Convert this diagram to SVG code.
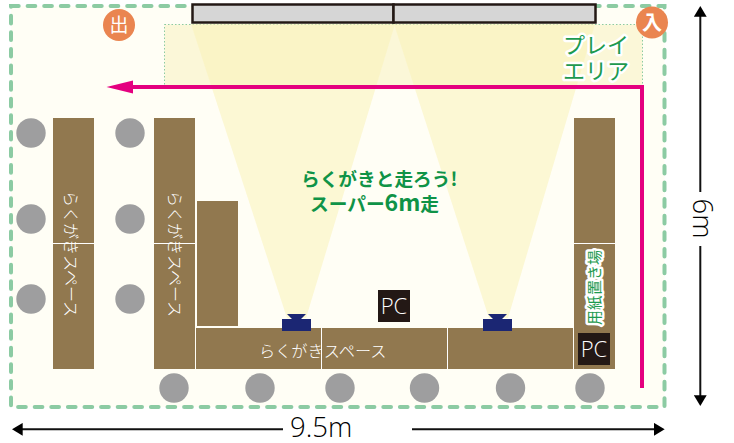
<svg xmlns="http://www.w3.org/2000/svg" width="734" height="443" viewBox="0 0 734 443">
<style>
text{font-family:"Noto Sans CJK JP","Noto Sans",sans-serif}
.t{fill:#91784f}
.sep{stroke:#fff;stroke-width:1;fill:none}
.c{fill:#9e9e9f}
.w{fill:#fff;font-size:16px;font-weight:300}
.g{fill:#0f9347;font-weight:700;font-size:18.700px}
.pa{fill:#1d9a4f;font-size:22px;stroke:#fff;stroke-width:5px;paint-order:stroke;stroke-linejoin:round}
.o{fill:#ea8550}
.pc{fill:#231815}
.pct{fill:#fff;font-family:"Open Sans",sans-serif;font-size:22px;font-weight:300;text-anchor:middle}
.n{fill:#1b2673}
.d{fill:#000;font-family:"Open Sans",sans-serif;font-size:27.500px;font-weight:300}
.dl{stroke:#111;stroke-width:2;fill:none}
</style>
<defs>
<marker id="ah" markerUnits="userSpaceOnUse" markerWidth="11" markerHeight="13" refX="5" refY="6.400" orient="auto"><path d="M0 0L10.700 6.400L0 12.800z" fill="#000"/></marker>
<marker id="pk" markerUnits="userSpaceOnUse" markerWidth="28" markerHeight="14" refX="13" refY="6.500" orient="auto"><path d="M0 0L26.500 6.500L0 13z" fill="#e4007f"/></marker>
</defs>
<g id="room"><rect x="11" y="6" width="653.500" height="401" fill="#fffef5" stroke="#8ccba3" stroke-width="4" stroke-dasharray="7.700 8.900" stroke-linecap="round"/></g>
<g id="play-area"><rect x="164.500" y="24.500" width="478" height="63" fill="#fbf7d8" stroke="#8ccba3" stroke-width="1" stroke-dasharray="1.500 2"/></g>
<g id="beams" fill="#faf3b8" fill-opacity=".55"><path d="M191 24L287 318H306L395 24z"/><path d="M394 24L489 318H508L595 24z"/></g>
<g id="screen" fill="#d6d6d6" stroke="#231815" stroke-width="2.500"><rect x="192.500" y="4.500" width="201" height="18"/><rect x="393.500" y="4.500" width="202" height="18"/></g>
<g id="exit"><circle class="o" cx="119" cy="25" r="16"/><text x="119" y="32" font-size="19" fill="#fff" text-anchor="middle">出</text></g>
<g id="entrance"><circle class="o" cx="652" cy="22.500" r="16"/><text x="652" y="30" font-size="20" fill="#fff" font-weight="700" text-anchor="middle">入</text></g>
<g id="play-label"><text class="pa" x="563" y="53">プレイ</text><text class="pa" x="563" y="79">エリア</text></g>
<g id="connectors"><path d="M642 388V87H120" fill="none" stroke="#e4007f" stroke-width="4" marker-end="url(#pk)"/>
<path class="dl" d="M700.300 192V11.700" marker-end="url(#ah)"/><path class="dl" d="M700.300 246V400.300" marker-end="url(#ah)"/><path class="dl" d="M283 429.300H17.700" marker-end="url(#ah)"/><path class="dl" d="M412 429.300H659" marker-end="url(#ah)"/></g>
<g id="table-1"><rect class="t" x="53" y="118" width="41" height="251"/><path class="sep" d="M53 243.500H94"/><text class="w" transform="translate(64.500 191) rotate(90)">らくがきスペース</text></g>
<g id="table-2"><rect class="t" x="154" y="118" width="41" height="251"/><path class="sep" d="M154 243.500H195"/><text class="w" transform="translate(169 191) rotate(90)">らくがきスペース</text></g>
<g id="table-3"><rect class="t" x="197" y="201" width="41" height="125"/></g>
<g id="table-4"><rect class="t" x="196" y="328" width="377" height="41"/><path class="sep" d="M321.500 328V369M447.500 328V369"/><text class="w" x="259" y="356.500" font-size="16.200" style="font-size:16.200px">らくがきスペース</text></g>
<g id="table-5"><rect class="t" x="574" y="118" width="41" height="251"/><path class="sep" d="M574 243.500H615"/></g>
<g id="paper"><text transform="translate(600 325) rotate(-90)" font-size="15" fill="#1d9a4f" stroke="#fff" stroke-width="5" paint-order="stroke" stroke-linejoin="round" textLength="75">用紙置き場</text></g>
<g id="pc-1"><rect class="pc" x="378" y="290" width="32" height="32"/><text class="pct" x="394" y="314">PC</text></g>
<g id="pc-2"><rect class="pc" x="578" y="333" width="32" height="32"/><text class="pct" x="594" y="357">PC</text></g>
<g id="projector-1"><path class="n" d="M287 314H306L301 319H311V331H282V319H292z"/></g>
<g id="projector-2"><path class="n" d="M488 314H507L502 319H512V331H483V319H493z"/></g>
<g id="stools"><circle class="c" cx="31" cy="133" r="14.700"/><circle class="c" cx="31" cy="219" r="14.700"/><circle class="c" cx="31" cy="299" r="14.700"/><circle class="c" cx="130" cy="133" r="14.700"/><circle class="c" cx="130" cy="219" r="14.700"/><circle class="c" cx="130" cy="299" r="14.700"/><circle class="c" cx="174" cy="388" r="14.700"/><circle class="c" cx="260" cy="388" r="14.700"/><circle class="c" cx="340" cy="388" r="14.700"/><circle class="c" cx="424.500" cy="388" r="14.700"/><circle class="c" cx="510.500" cy="388" r="14.700"/><circle class="c" cx="590" cy="388" r="14.700"/></g>
<g id="title"><text class="g" x="301" y="186">らくがきと走ろう!</text><text class="g" x="310" y="211">スーパー<tspan font-size="23">6m</tspan>走</text></g>
<g id="dims"><text class="d" x="290" y="437">9.5m</text><text class="d" transform="translate(693 198.500) rotate(90)">6m</text></g>
</svg>
